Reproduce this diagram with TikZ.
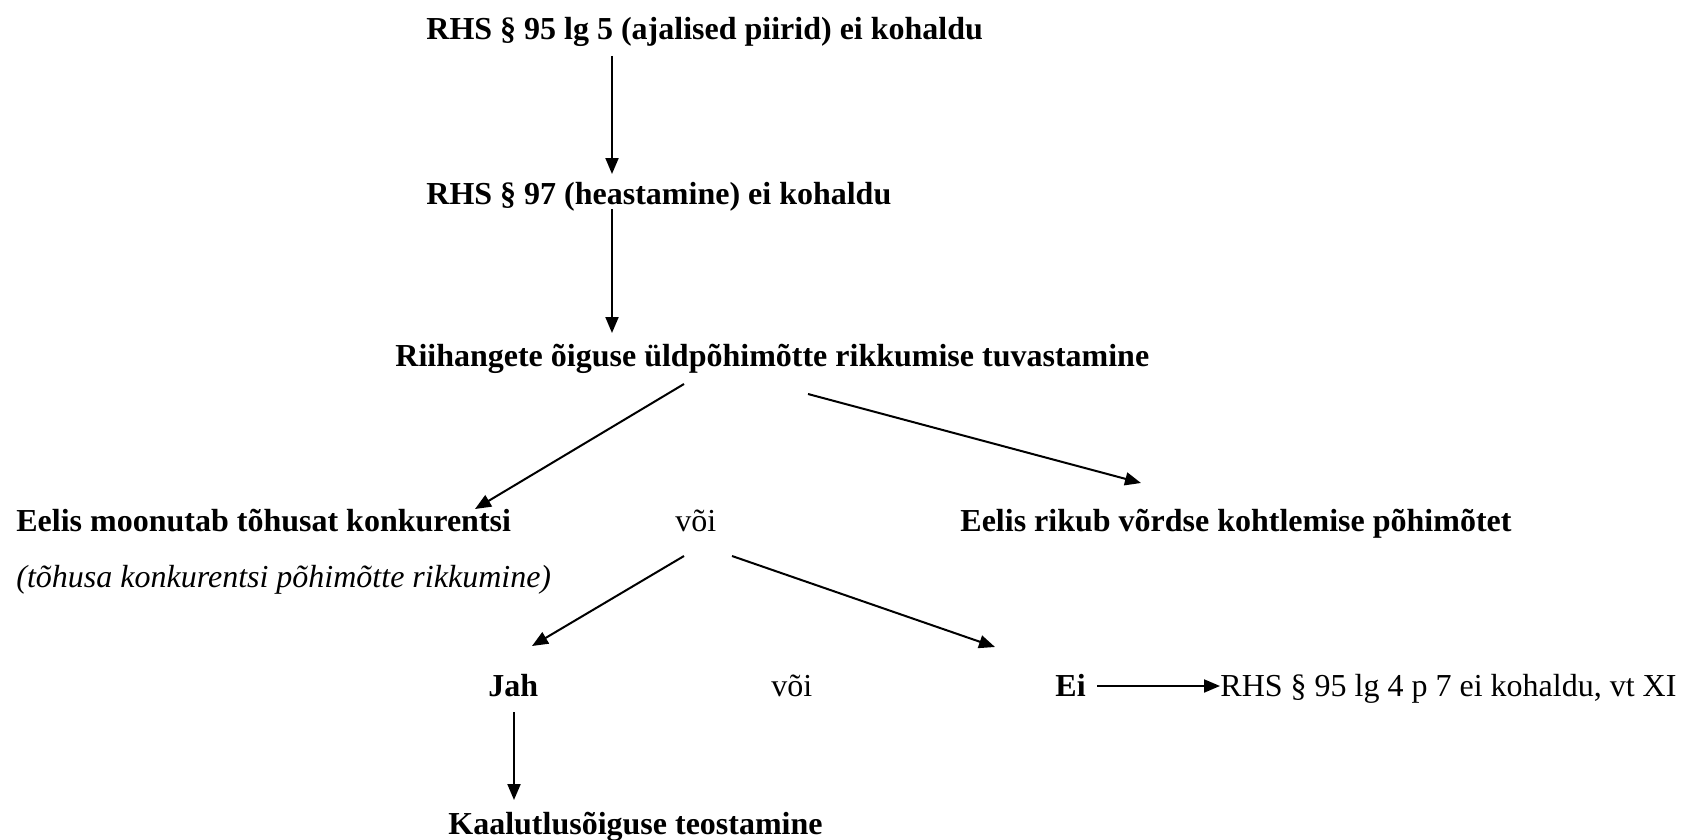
\documentclass[tikz,border=0pt]{standalone}
\usepackage{fontspec}
\setmainfont{Liberation Serif}
\usetikzlibrary{arrows.meta,calc}
\tikzstyle{txt} = [anchor=base west, inner sep=0pt, font=\fontsize{16pt}{19pt}\selectfont]
\tikzstyle{head} = [txt, font=\fontsize{16pt}{19pt}\selectfont\bfseries]
\tikzstyle{note} = [txt, font=\fontsize{16pt}{19pt}\selectfont\itshape]
\tikzstyle{arr} = [-{Triangle[length=8pt,width=6.5pt]}, line width=1pt]

\begin{document}
\begin{tikzpicture}[x=0.5pt,y=-0.5pt]
	\useasboundingbox (0,0) rectangle (1681,840);

	% put the texts where we want them
	\node [head] (rhs95) at (426,40) {RHS § 95 lg 5 (ajalised piirid) ei kohaldu};
	\node [head] (rhs97) at (426,204) {RHS § 97 (heastamine) ei kohaldu};
	\node [head] (tuvast) at (395,366) {Riihangete õiguse üldpõhimõtte rikkumise tuvastamine};
	\node [head] (moonutab) at (16,531) {Eelis moonutab tõhusat konkurentsi};
	\node [txt] (voi1) at (675,531) {või};
	\node [head] (vordse) at (960,531) {Eelis rikub võrdse kohtlemise põhimõtet};
	\node [note] (tohusa) at (16,587) {(tõhusa konkurentsi põhimõtte rikkumine)};
	\node [head] (jah) at (488,696) {Jah};
	\node [txt] (voi2) at (771,696) {või};
	\node [head] (ei) at (1055,696) {Ei};
	\node [txt] (p7) at (1220,696) {RHS § 95 lg 4 p 7 ei kohaldu, vt XI};
	\node [head] (kaalut) at (448,834) {Kaalutlusõiguse teostamine};

	% draw the arrows down the tree
	\draw [arr] ($(rhs95.base west)+(186,16)$) -- ($(rhs97.base west)+(186,-30)$);
	\draw [arr] ($(rhs97.base west)+(186,5)$) -- ($(tuvast.base west)+(217,-33)$);
	\draw [arr] ($(tuvast.base west)+(289,18)$) -- ($(moonutab.base west)+(459,-22)$);
	\draw [arr] ($(tuvast.base west)+(413,28)$) -- ($(vordse.base west)+(181,-48)$);

	% yes or no
	\draw [arr] ($(voi1.base west)+(9,25)$) -- ($(jah.base west)+(44,-50)$);
	\draw [arr] ($(voi1.base west)+(57,25)$) -- ($(ei.base west)+(-60,-49)$);
	\draw [arr] ($(ei.base west)+(42,-10)$) -- ($(p7.base west)+(0,-10)$);
	\draw [arr] ($(jah.base west)+(26,16)$) -- ($(kaalut.base west)+(66,-34)$);

\end{tikzpicture}
\end{document}
